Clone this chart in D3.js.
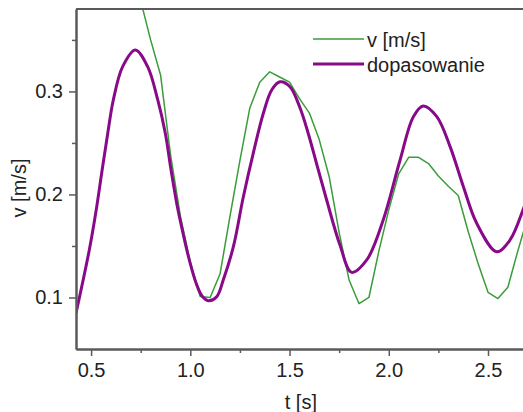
<!DOCTYPE html>
<html lang="pl">
<head>
  <meta charset="UTF-8">
  <title>v(t) - dopasowanie</title>
  <script src="https://cdn.jsdelivr.net/npm/d3@7"></script>
  <style>
    body { margin: 0; background: #fff; }
    text { font-family: "Liberation Sans", Arial, sans-serif; fill: #222; }
  </style>
</head>
<body>
<script>
  // measured speed, sampled every 0.05 s
  var tMeas = [0.75, 0.80, 0.85, 0.90, 0.95, 1.00, 1.05, 1.10, 1.15, 1.20, 1.25, 1.30, 1.35, 1.40,
               1.45, 1.50, 1.55, 1.60, 1.65, 1.70, 1.75, 1.80, 1.85, 1.90, 1.95, 2.00, 2.05, 2.10,
               2.15, 2.20, 2.25, 2.30, 2.35, 2.40, 2.45, 2.50, 2.55, 2.60, 2.65, 2.70];
  var vMeas = [0.388, 0.350, 0.316, 0.239, 0.179, 0.134, 0.101, 0.100, 0.123, 0.179, 0.233, 0.284, 0.309, 0.319,
               0.314, 0.309, 0.293, 0.279, 0.253, 0.217, 0.163, 0.117, 0.094, 0.100, 0.145, 0.185, 0.220, 0.236,
               0.236, 0.230, 0.218, 0.208, 0.199, 0.164, 0.133, 0.105, 0.099, 0.110, 0.145, 0.178];

  // fitted curve
  var tFit = [0.424, 0.491, 0.525, 0.555, 0.584, 0.612, 0.659, 0.723, 0.785, 0.836, 0.874, 0.903, 0.933,
              0.963, 0.995, 1.029, 1.059, 1.091, 1.133, 1.166, 1.217, 1.267, 1.317, 1.368, 1.410, 1.452,
              1.502, 1.553, 1.595, 1.638, 1.687, 1.754, 1.813, 1.889, 1.972, 2.057, 2.124, 2.174, 2.242,
              2.309, 2.376, 2.443, 2.544, 2.611, 2.676, 2.70];
  var vFit = [0.0847, 0.1461, 0.1839, 0.2228, 0.2594, 0.2917, 0.3240, 0.3402, 0.3240, 0.2917, 0.2594, 0.2237, 0.1898,
              0.1626, 0.1364, 0.1141, 0.1014, 0.0969, 0.1008, 0.1170, 0.1493, 0.1975, 0.2399, 0.2788, 0.3014, 0.3094,
              0.3046, 0.2839, 0.2587, 0.2286, 0.1946, 0.1509, 0.1244, 0.1364, 0.1752, 0.2334, 0.2755, 0.2859, 0.2755,
              0.2464, 0.2075, 0.1720, 0.1444, 0.1558, 0.1849, 0.1985];

  var xMajor = [0.5, 1.0, 1.5, 2.0, 2.5];
  var xMinor = [0.75, 1.25, 1.75, 2.25];
  var yMajor = [0.1, 0.2, 0.3];
  var yMinor = [0.15, 0.25, 0.35];

  var seriesNames = ['v [m/s]', 'dopasowanie'];
  var colors = ['#3a9c3a', '#880a88'];

  var W = 523, H = 412;
  var mLeft = 76, mTop = 9, mRight = 527.7, mBottom = 349;

  var svg = d3.select('body').append('svg')
    .attr('width', W).attr('height', H);

  var x = d3.scaleLinear().domain([0.424, 2.7]).range([mLeft, mRight]);
  var y = d3.scaleLinear().domain([0.05, 0.38]).range([mBottom, mTop]);

  svg.append('clipPath').attr('id', 'plot')
    .append('rect')
    .attr('x', mLeft).attr('y', mTop)
    .attr('width', mRight - mLeft).attr('height', mBottom - mTop);

  var line = d3.line()
    .x(function(d){ return x(d[0]); })
    .y(function(d){ return y(d[1]); });

  var meas = d3.zip(tMeas, vMeas);
  var fit = d3.zip(tFit, vFit);

  var g = svg.append('g').attr('clip-path', 'url(#plot)');
  g.append('path').datum(meas)
    .attr('d', line)
    .attr('fill', 'none')
    .attr('stroke', colors[0])
    .attr('stroke-width', 1.5)
    .attr('stroke-linejoin', 'round');
  g.append('path').datum(fit)
    .attr('d', line.curve(d3.curveCatmullRom.alpha(0.5)))
    .attr('fill', 'none')
    .attr('stroke', colors[1])
    .attr('stroke-width', 3);

  // axes
  function style(sel) {
    sel.selectAll('path.domain').attr('stroke', '#5a5a5a').attr('stroke-width', 2);
    sel.selectAll('line').attr('stroke', '#5a5a5a').attr('stroke-width', 1.5);
    sel.selectAll('text').attr('font-size', 20).attr('fill', '#222')
      .attr('font-family', '"Liberation Sans", Arial, sans-serif');
  }

  svg.append('g').attr('transform', 'translate(0,' + mBottom + ')')
    .call(d3.axisBottom(x).tickValues(xMinor).tickSize(4).tickFormat('').tickSizeOuter(0))
    .call(style);
  svg.append('g').attr('transform', 'translate(0,' + mBottom + ')')
    .call(d3.axisBottom(x).tickValues(xMajor).tickSize(7).tickPadding(7)
      .tickFormat(d3.format('.1f')).tickSizeOuter(0))
    .call(style);

  svg.append('g').attr('transform', 'translate(' + mLeft + ',0)')
    .call(d3.axisLeft(y).tickValues(yMinor).tickSize(4).tickFormat('').tickSizeOuter(0))
    .call(style);
  svg.append('g').attr('transform', 'translate(' + mLeft + ',0)')
    .call(d3.axisLeft(y).tickValues(yMajor).tickSize(7).tickPadding(6)
      .tickFormat(d3.format('.1f')).tickSizeOuter(0))
    .call(style);

  // top frame
  svg.append('line')
    .attr('x1', mLeft).attr('x2', mRight)
    .attr('y1', mTop).attr('y2', mTop)
    .attr('stroke', '#5a5a5a').attr('stroke-width', 2);

  // axis titles
  svg.append('text')
    .attr('x', (mLeft + mRight) / 2 - 1).attr('y', 409)
    .attr('text-anchor', 'middle').attr('font-size', 20)
    .text('t [s]');
  svg.append('text')
    .attr('transform', 'translate(26,188) rotate(-90)')
    .attr('text-anchor', 'middle').attr('font-size', 20)
    .text('v [m/s]');

  // legend
  var legend = svg.append('g').selectAll('g')
    .data(seriesNames)
    .enter().append('g')
    .attr('transform', function(d, i){ return 'translate(313,' + (39 + i * 25) + ')'; });
  legend.append('line')
    .attr('x1', 0).attr('x2', 51)
    .attr('stroke', function(d, i){ return colors[i]; })
    .attr('stroke-width', function(d, i){ return i ? 3 : 1.5; });
  legend.append('text')
    .attr('x', 54).attr('y', 8)
    .attr('font-size', 20)
    .text(function(d){ return d; });
</script>
</body>
</html>
